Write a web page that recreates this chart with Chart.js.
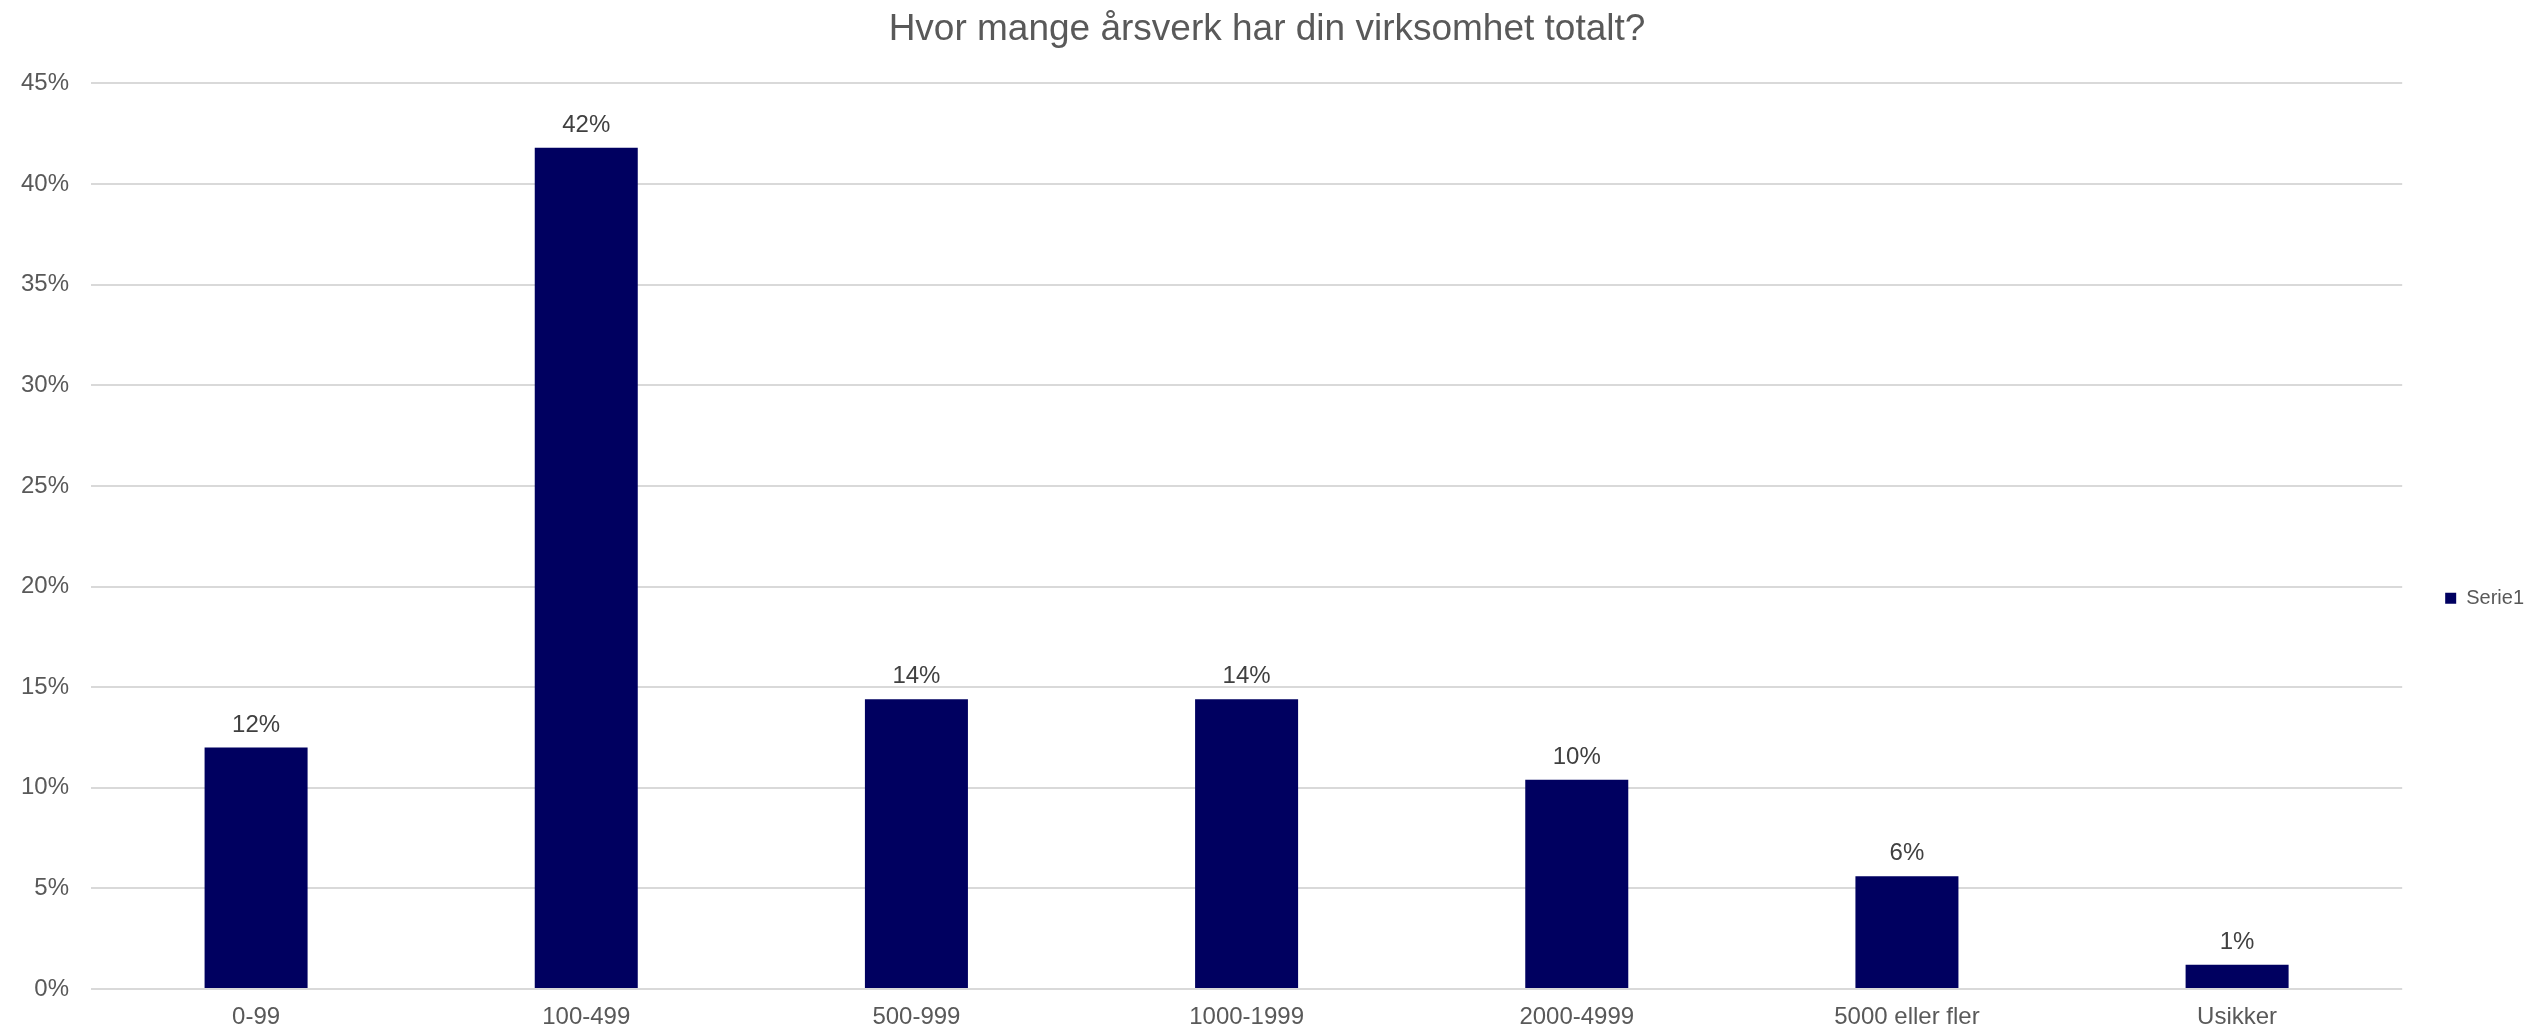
<!DOCTYPE html>
<html>
<head>
<meta charset="utf-8">
<title>Hvor mange årsverk har din virksomhet totalt?</title>
<script src="https://cdn.jsdelivr.net/npm/chart.js@4/dist/chart.umd.min.js"></script>
<style>
  html, body { margin: 0; padding: 0; background: #ffffff; }
  #wrap { width: 2548px; height: 1030px; }
</style>
</head>
<body>
<div id="wrap"><canvas id="chart" width="2548" height="1030"></canvas></div>
<script>
// Data
const categories = ["0-99", "100-499", "500-999", "1000-1999", "2000-4999", "5000 eller fler", "Usikker"];
const serie1 = [0.12, 0.418, 0.144, 0.144, 0.104, 0.056, 0.012];
const yTicks = [0, 0.05, 0.10, 0.15, 0.20, 0.25, 0.30, 0.35, 0.40, 0.45];

const FONT = "'Liberation Sans', Arial, Helvetica, sans-serif";

// Verdietiketter over søylene
const barLabels = {
  id: "barLabels",
  afterDatasetsDraw(chart) {
    const ctx = chart.ctx;
    const meta = chart.getDatasetMeta(0);
    ctx.save();
    ctx.font = "24px " + FONT;
    ctx.fillStyle = "#404040";
    ctx.textAlign = "center";
    ctx.textBaseline = "alphabetic";
    meta.data.forEach((bar, i) => {
      const txt = Math.round(serie1[i] * 100) + "%";
      ctx.fillText(txt, bar.x, bar.y - 16);
    });
    ctx.restore();
  }
};

const ctx = document.getElementById("chart").getContext("2d");
new Chart(ctx, {
  type: "bar",
  data: {
    labels: categories,
    datasets: [
      {
        label: "Serie1",
        data: serie1,
        backgroundColor: "#000060",
        borderWidth: 0,
        barPercentage: 0.312,
        categoryPercentage: 1.0,
      },
    ],
  },
  options: {
    responsive: false,
    animation: false,
    devicePixelRatio: 1,
    layout: { padding: { left: 0, right: 14, top: 0, bottom: 0 } },
    plugins: {
      title: {
        display: true,
        text: "Hvor mange årsverk har din virksomhet totalt?",
        color: "#595959",
        font: { family: FONT, size: 37, weight: "normal" },
        padding: { top: 8, bottom: 31 },
      },
      legend: {
        display: true,
        position: "right",
        align: "center",
        title: {
          display: true,
          text: " ",
          font: { size: 12 },
          padding: { top: 152, bottom: 0 },
        },
        labels: {
          boxWidth: 11,
          boxHeight: 11,
          padding: 43,
          color: "#595959",
          font: { family: FONT, size: 20 },
        },
      },
      tooltip: { enabled: false },
    },
    scales: {
      x: {
        grid: { display: false, drawTicks: false },
        border: { display: false },
        ticks: {
          color: "#595959",
          font: { family: FONT, size: 24 },
          padding: 14,
          maxRotation: 0,
          autoSkip: false,
        },
        afterFit(scale) { scale.height = 41; },
      },
      y: {
        min: 0,
        max: 0.45,
        grid: { color: "#d9d9d9", lineWidth: 2, drawTicks: false },
        border: { display: false },
        afterBuildTicks(scale) {
          scale.ticks = yTicks.map((v) => ({ value: v }));
        },
        ticks: {
          color: "#595959",
          font: { family: FONT, size: 24 },
          padding: 22,
          callback: (v) => Math.round(v * 100) + "%",
        },
        afterFit(scale) { scale.width = 91; },
      },
    },
  },
  plugins: [barLabels],
});
</script>
</body>
</html>
